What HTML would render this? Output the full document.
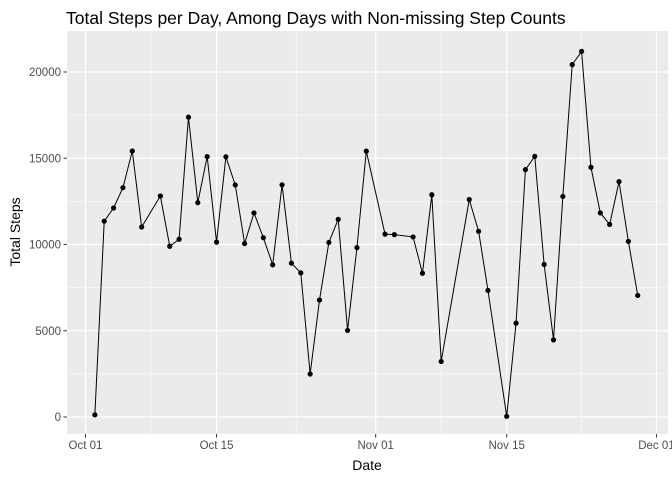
<!DOCTYPE html>
<html><head><meta charset="utf-8"><style>
body{margin:0;background:#fff;}
svg text{font-family:"Liberation Sans",Arial,sans-serif;}
</style></head><body>
<svg id="chart" width="672" height="480">
<rect x="0" y="0" width="672" height="480" fill="#fff"/>
<rect x="67" y="31" width="601" height="403" fill="#ebebeb"/>
<g id="grid"></g>
<g id="axes"></g>
<g id="marks"></g>
<text x="66" y="24" font-size="17.5" fill="#000">Total Steps per Day, Among Days with Non-missing Step Counts</text>
<text x="367" y="470" font-size="14" text-anchor="middle" fill="#000">Date</text>
<text transform="translate(20,232) rotate(-90)" font-size="14" text-anchor="middle" fill="#000">Total Steps</text>
</svg>
<script>
const dates=["10-02","10-03","10-04","10-05","10-06","10-07","10-09","10-10","10-11","10-12","10-13","10-14","10-15","10-16","10-17","10-18","10-19","10-20","10-21","10-22","10-23","10-24","10-25","10-26","10-27","10-28","10-29","10-30","10-31","11-02","11-03","11-05","11-06","11-07","11-08","11-11","11-12","11-13","11-15","11-16","11-17","11-18","11-19","11-20","11-21","11-22","11-23","11-24","11-25","11-26","11-27","11-28","11-29"];
const steps=[126,11352,12116,13294,15420,11015,12811,9900,10304,17382,12426,15098,10139,15084,13452,10056,11829,10395,8821,13460,8918,8355,2492,6778,10119,11458,5018,9819,15414,10600,10571,10439,8334,12883,3219,12608,10765,7336,41,5441,14339,15110,8841,4472,12787,20427,21194,14478,11834,11162,13646,10183,7047];
const yTicks=[0,5000,10000,15000,20000];
const xTickLabels=["Oct 01","Oct 15","Nov 01","Nov 15","Dec 01"];
const xTickDates=["10-01","10-15","11-01","11-15","12-01"];
const NS="http://www.w3.org/2000/svg";
function dayIdx(s){const [m,d]=s.split("-").map(Number);return m===10?d-1:(m===11?30+d:61+d-1);}
function xs(s){return 85.5+dayIdx(s)*9.36;}
function xd(i){return 85.5+i*9.36;}
function ys(v){return 417-v*0.01725;}
function el(t,a,p){const e=document.createElementNS(NS,t);for(const k in a)e.setAttribute(k,a[k]);p.appendChild(e);return e;}
const grid=document.getElementById('grid'),axes=document.getElementById('axes'),marks=document.getElementById('marks');
// minor y
for(let i=0;i<yTicks.length-1;i++){const v=(yTicks[i]+yTicks[i+1])/2;const l=el('line',{x1:67,x2:668,y1:ys(v),y2:ys(v),stroke:'#fff','stroke-width':0.6},grid);

}
// minor x
for(let i=0;i<xTickDates.length-1;i++){const a=dayIdx(xTickDates[i]),b=dayIdx(xTickDates[i+1]);const x=xd((a+b)/2);const l=el('line',{x1:x,x2:x,y1:31,y2:434,stroke:'#fff','stroke-width':0.6},grid);

}
yTicks.forEach(v=>{const y=ys(v);
const l=el('line',{x1:67,x2:668,y1:y,y2:y,stroke:'#fff','stroke-width':1.2},grid);


const t=el('line',{x1:63.5,x2:67,y1:y,y2:y,stroke:'#333','stroke-width':1},axes);


const tx=el('text',{x:61,y:y+4,'font-size':11.5,'text-anchor':'end',fill:'#4d4d4d'},axes);tx.textContent=v;

});
xTickDates.forEach((d,i)=>{const x=xs(d);
const l=el('line',{x1:x,x2:x,y1:31,y2:434,stroke:'#fff','stroke-width':1.2},grid);


const t=el('line',{x1:x,x2:x,y1:434,y2:437.5,stroke:'#333','stroke-width':1},axes);


const tx=el('text',{x:x,y:449,'font-size':11.5,'text-anchor':'middle',fill:'#4d4d4d'},axes);tx.textContent=xTickLabels[i];

});
const pts=dates.map((d,i)=>xs(d)+','+ys(steps[i])).join(' ');
const pl=el('polyline',{points:pts,fill:'none',stroke:'#000','stroke-width':1},marks);


dates.forEach((d,i)=>{const c=el('circle',{cx:xs(d),cy:ys(steps[i]),r:2.6,fill:'#000'},marks);

});
</script>
</body></html>
